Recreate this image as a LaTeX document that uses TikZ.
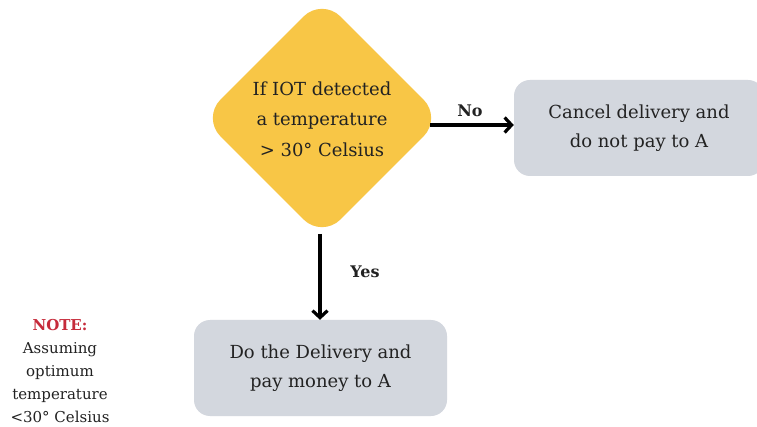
\documentclass[tikz,border=0pt]{standalone}
\usepackage{fontspec}
\setmainfont{DejaVu Serif}
\usetikzlibrary{shapes.geometric,arrows.meta}
\definecolor{gold}{HTML}{F8C646}
\definecolor{boxgray}{HTML}{D3D7DE}
\definecolor{notered}{HTML}{C62A3A}
\definecolor{ink}{HTML}{222222}
\tikzset{
  decision/.style={diamond, fill=gold, draw=none, minimum width=240pt, minimum height=240pt, inner sep=0pt, rounded corners=26pt},
  action/.style={rectangle, fill=boxgray, draw=none, rounded corners=16pt, minimum width=253pt, minimum height=96pt, align=center, text=ink, font=\fontsize{18pt}{29pt}\selectfont},
  flowarrow/.style={line width=3.2pt, -{Straight Barb[length=7pt,width=15pt,line width=3.2pt]}},
  lbl/.style={font=\fontsize{16pt}{18pt}\selectfont\bfseries, text=ink},
}
\begin{document}
\begin{tikzpicture}[x=1pt,y=-1pt]
\useasboundingbox (0,0) rectangle (757,427);
\fill[white] (0,0) rectangle (757,427);
\node[decision] (d) at (322,118) {};
\node[align=center, text=ink, font=\fontsize{18pt}{30.5pt}\selectfont] (dt) at (322,119) {If IOT detected\\a temperature\\> 30° Celsius};
\node[action, minimum width=250pt] (c) at (639,128) {Cancel delivery and\\do not pay to A};
\node[action] (p) at (320.5,368) {Do the Delivery and\\pay money to A};
\coordinate (dr) at (430,125);
\coordinate (db) at (320,234);
\draw[flowarrow] (dr) -- (c.west|-dr);
\draw[flowarrow] (db) -- (p.north-|db);
\node[lbl] (no) at (470,111) {No};
\node[lbl] (yes) at (365,272) {Yes};
\node[align=center, text=ink, font=\fontsize{15pt}{23pt}\selectfont] (note) at (60,371) {\textcolor{notered}{\bfseries NOTE:}\\Assuming\\optimum\\temperature\\<30° Celsius};
\end{tikzpicture}
\end{document}
